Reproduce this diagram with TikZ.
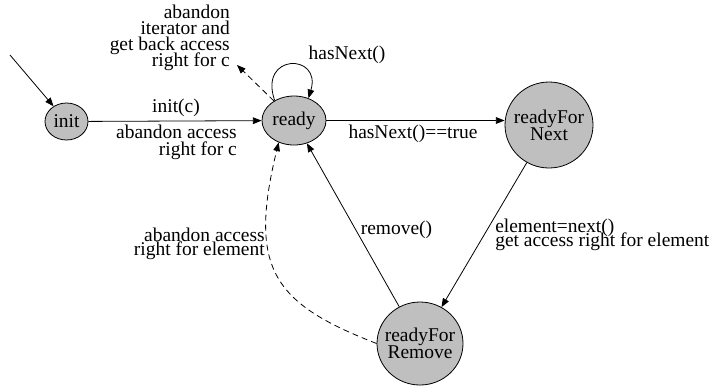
\documentclass[tikz,border=0pt]{standalone}
\usepackage{fontspec}
\setmainfont{Liberation Serif}
\usetikzlibrary{arrows.meta}
\usetikzlibrary{shapes.geometric}

\begin{document}
\begin{tikzpicture}[x=0.75pt, y=-0.75pt,
  state/.style={ellipse, draw, fill=black!25, inner sep=0pt, line width=0.6pt, align=center,
    font=\fontsize{14.6}{12.5}\selectfont\lineskiplimit-100pt},
  bigstate/.style={state, inner xsep=-4pt},
  lbl/.style={inner sep=0pt, font=\fontsize{14.6}{12}\selectfont\lineskiplimit-100pt},
  tightlbl/.style={lbl, font=\fontsize{14.6}{10.5}\selectfont\lineskiplimit-100pt},
  trans/.style={line width=0.6pt, -{Triangle[length=6.5pt,width=5pt]}},
  back/.style={trans, dash pattern=on 4.5pt off 3pt}]
\useasboundingbox (0,0) rectangle (712,387);
% states
\node[state, minimum width=32.25pt, minimum height=27.75pt] (init) at (66.5,121.5) {init};
\node[state, minimum width=48pt, minimum height=36.75pt] (ready) at (294,120.5) {ready};
\node[bigstate, minimum width=66pt, minimum height=64.5pt] (rfn) at (549,125) {readyFor\\Next};
\node[bigstate, minimum width=64.5pt, minimum height=62.25pt] (rfr) at (420,343.5) {readyFor\\Remove};
\coordinate (start) at (10,55);
\coordinate (quitEnd) at (237,65);
% transitions
\draw[trans] (start) -- (init);
\draw[trans] (init) -- (ready);
\draw[trans] (ready.134) .. controls (258,53) and (322,53) .. (ready.57);
\draw[back] (ready) -- (quitEnd);
\draw[trans] (ready.east) -- (ready.east -| rfn.west);
\draw[trans] (rfn) -- (rfr);
\draw[trans] (rfr) -- (ready);
\draw[back] (rfr.west) .. controls (273.6,303.5) and (247.8,269) .. (ready.235);
% labels
\node[lbl] (initLbl) at (176,107.5) {init(c)};
\node[lbl, align=right, anchor=east, font=\fontsize{14.6}{12.75}\selectfont\lineskiplimit-100pt] (dropCLbl) at (237,142.5) {abandon access\\right for c};
\node[lbl, align=right, anchor=east] (quitLbl) at (230,37.5) {abandon\\iterator and\\get back access\\right for c};
\node[lbl] (loopLbl) at (347,54.5) {hasNext()};
\node[lbl] (trueLbl) at (413,134) {hasNext()==true};
\node[lbl] (removeLbl) at (396.5,229.5) {remove()};
\node[tightlbl, align=left, anchor=west] (nextLbl) at (495,234.5) {element=next()\\get access right for element};
\node[tightlbl, align=right, anchor=east] (dropElemLbl) at (265,243.5) {abandon access\\right for element};
\end{tikzpicture}
\end{document}
